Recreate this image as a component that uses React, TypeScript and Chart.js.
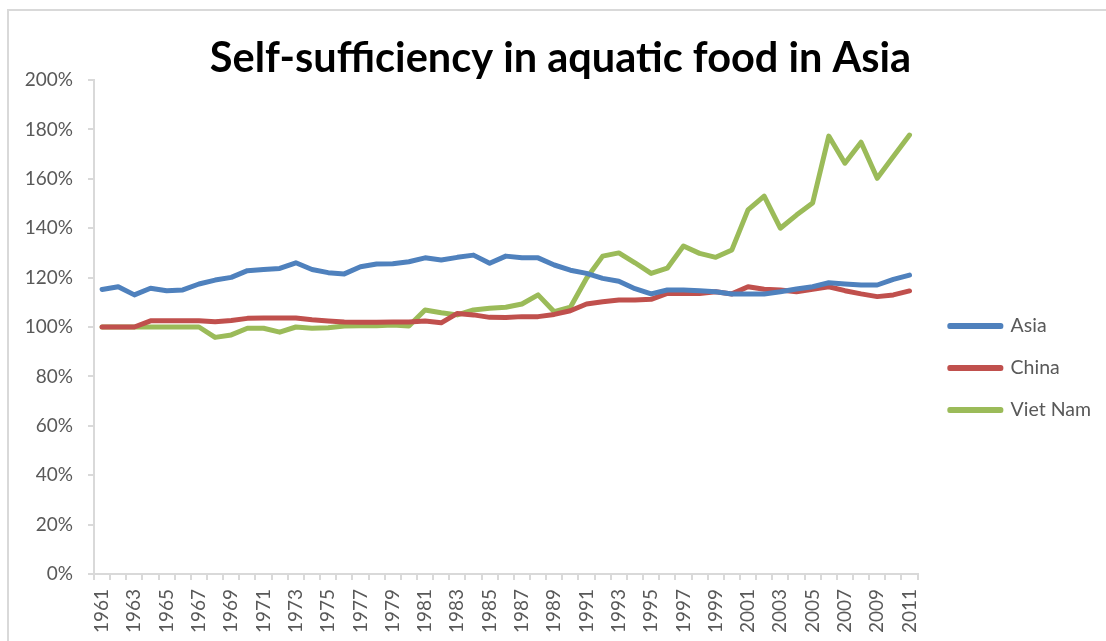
import { useEffect, useRef } from "react";
import { Chart, registerables } from "chart.js";

Chart.register(...registerables);

const years = [
  "1961", "1962", "1963", "1964", "1965", "1966", "1967", "1968", "1969", "1970",
  "1971", "1972", "1973", "1974", "1975", "1976", "1977", "1978", "1979", "1980",
  "1981", "1982", "1983", "1984", "1985", "1986", "1987", "1988", "1989", "1990",
  "1991", "1992", "1993", "1994", "1995", "1996", "1997", "1998", "1999", "2000",
  "2001", "2002", "2003", "2004", "2005", "2006", "2007", "2008", "2009", "2010",
  "2011",
];

const asia = [
  115.2, 116.3, 113.0, 115.7, 114.7, 115.0, 117.4, 119.0, 120.1, 122.8,
  123.3, 123.7, 126.0, 123.3, 122.0, 121.5, 124.4, 125.5, 125.6, 126.4,
  128.0, 127.1, 128.2, 129.1, 125.8, 128.7, 128.0, 128.0, 125.1, 123.0,
  121.7, 119.7, 118.5, 115.5, 113.4, 115.0, 115.0, 114.7, 114.3, 113.4,
  113.4, 113.4, 114.3, 115.4, 116.3, 117.9, 117.4, 117.0, 117.0, 119.3,
  121.0,
];

const china = [
  100.0, 100.0, 100.0, 102.5, 102.5, 102.5, 102.5, 102.1, 102.6, 103.5,
  103.6, 103.6, 103.6, 102.9, 102.4, 102.0, 101.9, 101.9, 102.0, 102.0,
  102.4, 101.7, 105.5, 104.9, 103.9, 103.8, 104.2, 104.2, 105.1, 106.6,
  109.3, 110.2, 110.9, 110.9, 111.2, 113.6, 113.6, 113.6, 114.3, 113.4,
  116.3, 115.3, 115.0, 114.3, 115.3, 116.3, 114.7, 113.4, 112.3, 113.0,
  114.6,
];

const vietNam = [
  100.0, 100.0, 100.0, 100.0, 100.0, 100.0, 100.0, 95.8, 96.8, 99.5,
  99.5, 97.9, 100.0, 99.5, 99.7, 100.4, 100.5, 100.5, 100.8, 100.4,
  106.9, 105.8, 104.9, 106.9, 107.6, 108.0, 109.3, 113.0, 106.2, 108.0,
  119.7, 128.7, 130.0, 126.0, 121.7, 123.8, 132.8, 129.8, 128.2, 131.2,
  147.4, 153.0, 140.0, 145.3, 150.2, 177.3, 166.3, 174.8, 160.2, 169.0,
  177.7,
];

const seriesNames = ["Asia", "China", "Viet Nam"];
const seriesColors = ["#4f81bd", "#c0504d", "#9bbb59"];
const titleText = "Self-sufficiency in aquatic food in Asia";

const axisGray = "#d9d9d9";
const textGray = "#595959";
const tickFont = { family: "Lato", size: 19 };
const legendFont = { family: "Lato", size: 19.5 };

export default function App() {
  const canvasRef = useRef<HTMLCanvasElement>(null);

  useEffect(() => {
    if (!canvasRef.current) return;
    const values = [asia, china, vietNam];
    const chart = new Chart(canvasRef.current, {
      type: "line",
      data: {
        labels: years,
        datasets: values.map((v, i) => ({
          label: seriesNames[i],
          data: v,
          borderColor: seriesColors[i],
          backgroundColor: seriesColors[i],
          borderWidth: 5,
          borderJoinStyle: "round" as const,
          borderCapStyle: "round" as const,
          pointRadius: 0,
          tension: 0,
          yAxisID: "y",
        })),
      },
      options: {
        animation: false,
        responsive: false,
        devicePixelRatio: 1,
        layout: { padding: { left: 20, right: 5, top: 0, bottom: 0 } },
        plugins: {
          title: {
            display: true,
            text: titleText,
            color: "#000000",
            font: { family: "Lato", weight: "bold", size: 41.5, lineHeight: 1 },
            padding: { top: 38, bottom: 0.5 },
          },
          legend: {
            position: "right",
            title: {
              display: true,
              text: " ",
              font: { family: "Lato", size: 15, lineHeight: 1.2 },
              padding: { top: 0, bottom: 77 },
            },
            labels: {
              boxWidth: 51,
              boxHeight: 1,
              padding: 22.5,
              color: textGray,
              font: legendFont,
            },
          },
          tooltip: { enabled: false },
        },
        scales: {
          x: {
            offset: true,
            grid: {
              offset: true,
              drawOnChartArea: false,
              color: axisGray,
              lineWidth: 2,
              tickLength: 6,
            },
            border: { color: axisGray, width: 2 },
            ticks: {
              autoSkip: false,
              minRotation: 90,
              maxRotation: 90,
              padding: 9,
              color: textGray,
              font: tickFont,
              callback: (_v: any, i: number) => (i % 2 === 0 ? years[i] : ""),
            },
            afterFit: (s: any) => {
              s.height = 67;
            },
          },
          y: {
            min: 0,
            max: 200,
            grid: {
              drawOnChartArea: false,
              color: axisGray,
              lineWidth: 2,
              tickLength: 6,
            },
            border: { color: axisGray, width: 2 },
            ticks: {
              stepSize: 20,
              padding: 15,
              color: textGray,
              font: tickFont,
              callback: (v: any) => v + "%",
            },
            afterFit: (s: any) => {
              s.width = 74;
            },
          },
          gap: {
            type: "linear",
            position: "right",
            display: true,
            grid: { display: false },
            border: { display: false },
            ticks: { display: false },
            afterFit: (s: any) => {
              s.width = 9.75;
            },
          },
        },
      },
    });
    return () => chart.destroy();
  }, []);

  return (
    <div style={{ position: "fixed", left: 0, top: 0, width: 1106, height: 641, background: "#fff", overflow: "hidden" }}>
      <div
        style={{
          position: "absolute",
          left: 7,
          top: 9,
          width: 1120,
          height: 660,
          border: "2px solid #d9d9d9",
        }}
      />
      <canvas
        ref={canvasRef}
        width={1106}
        height={641}
        style={{ position: "absolute", left: 0, top: 0, width: 1106, height: 641 }}
      />
    </div>
  );
}
